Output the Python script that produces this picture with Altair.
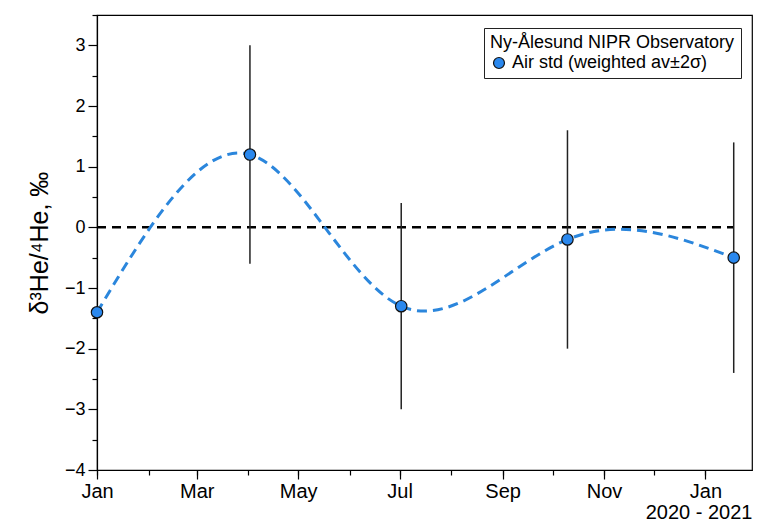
import altair as alt
import pandas as pd

# ---- data ----
dates = ["2020-01-01", "2020-04-02", "2020-07-02", "2020-10-10", "2021-01-18"]
values = [-1.4, 1.2, -1.3, -0.2, -0.5]
err_low = [None, -0.6, -3.0, -2.0, -2.4]
err_high = [None, 3.0, 0.4, 1.6, 1.4]
series_name = "Air std (weighted av±2σ)"
legend_title = "Ny-Ålesund NIPR Observatory"

major_months = [(2020, 1), (2020, 3), (2020, 5), (2020, 7), (2020, 9), (2020, 11), (2021, 1)]
minor_months = [(2020, m) for m in range(1, 13)] + [(2021, 1)]
y_major = [-4, -3, -2, -1, 0, 1, 2, 3]
y_minor = [-3.5, -2.5, -1.5, -0.5, 0.5, 1.5, 2.5, 3.5]

df = pd.DataFrame({"date": dates, "value": values, "lo": err_low, "hi": err_high,
                   "series": [series_name] * len(dates)})
err_df = df.dropna()
zero_df = pd.DataFrame({"date": [dates[0], dates[-1]], "value": [0, 0]})

FONT = "Liberation Sans"


def dt(y, m, d=1):
    return alt.DateTime(year=y, month=m, date=d, utc=True)


x_scale = alt.Scale(type="utc", domain=[dt(2020, 1, 1), dt(2021, 1, 29)], nice=False)
y_scale = alt.Scale(domain=[-4, 3.5], nice=False, zero=False)

axis_common = dict(grid=False, domainColor="black", domainWidth=1.2, tickColor="black",
                   tickWidth=1.2, labelColor="black", labelFont=FONT, titleFont=FONT,
                   titleColor="black")

x_major_axis = alt.Axis(values=[dt(y, m) for y, m in major_months],
                        labelExpr="utcFormat(datum.value, '%b')",
                        labelFontSize=20, tickSize=9, labelPadding=2,
                        title="2020 - 2021", titleAnchor="end", titleAlign="right",
                        titleFontSize=20, titleFontWeight="normal", titlePadding=1,
                        labelFlush=False, labelOverlap=False, **axis_common)
x_minor_axis = alt.Axis(values=[dt(y, m) for y, m in minor_months], labels=False,
                        orient="bottom", tickSize=5, domain=False, grid=False,
                        tickColor="black", tickWidth=1.2, title=None)
y_major_axis = alt.Axis(values=y_major, format="d", labelFontSize=18, tickSize=9,
                        labelPadding=3, title="δ³He/⁴He, ‰", titleFontSize=25,
                        titleFontWeight="normal", titlePadding=12, **axis_common)
y_minor_axis = alt.Axis(values=y_minor, labels=False, orient="left", tickSize=5,
                        domain=False, grid=False, tickColor="black", tickWidth=1.2,
                        title=None)

zero_line = alt.Chart(zero_df).mark_line(
    color="black", strokeWidth=2.5, strokeDash=[9, 6]
).encode(
    x=alt.X("date:T", scale=x_scale, axis=x_major_axis),
    y=alt.Y("value:Q", scale=y_scale, axis=y_major_axis),
)

err_bars = alt.Chart(err_df).mark_rule(color="#222222", strokeWidth=1.5).encode(
    x=alt.X("date:T", scale=x_scale, axis=x_minor_axis),
    y=alt.Y("lo:Q", scale=y_scale, axis=y_minor_axis),
    y2="hi:Q",
)

curve = alt.Chart(df).mark_line(
    interpolate="natural", color="#2b86dc", strokeWidth=3, strokeDash=[10, 6]
).encode(
    x=alt.X("date:T", scale=x_scale, axis=None),
    y=alt.Y("value:Q", scale=y_scale, axis=None),
)

points = alt.Chart(df).mark_point(
    filled=True, size=130, stroke="#111111", strokeWidth=1.2, opacity=1
).encode(
    x=alt.X("date:T", scale=x_scale, axis=None),
    y=alt.Y("value:Q", scale=y_scale, axis=None),
    color=alt.Color("series:N", scale=alt.Scale(range=["#2a88ee"]),
                    legend=alt.Legend(title=legend_title, orient="none", legendX=387,
                                      legendY=13, strokeColor="#222222", fillColor="white",
                                      padding=6, titleFontSize=18, labelFontSize=18,
                                      titleFontWeight="normal", titleFont=FONT,
                                      labelFont=FONT, titleColor="black",
                                      labelColor="black", symbolType="circle",
                                      symbolSize=120, symbolStrokeColor="#111111",
                                      symbolStrokeWidth=1.2, titlePadding=2,
                                      labelLimit=400, titleLimit=400)),
)

chart = alt.layer(zero_line, err_bars, curve, points).resolve_axis(
    x="independent", y="independent"
).properties(
    width=655, height=455,
    autosize=alt.AutoSizeParams(type="none"),
    padding={"left": 89, "top": 7, "right": 6, "bottom": 51},
).configure(font=FONT).configure_view(stroke="black", strokeWidth=1.2)

chart.save("out.html", embed_options={"renderer": "svg", "actions": False})
